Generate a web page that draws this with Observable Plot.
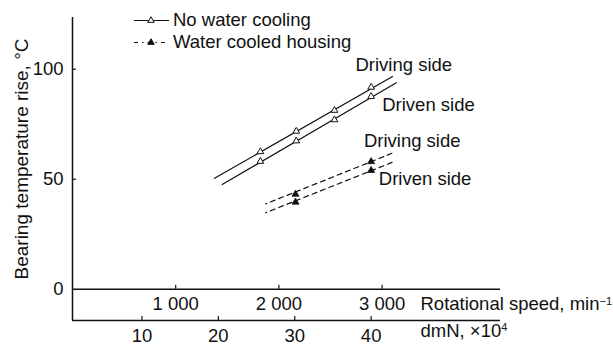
<!DOCTYPE html>
<html><head><meta charset="utf-8">
<script src="https://cdn.jsdelivr.net/npm/d3@7"></script>
<script src="https://cdn.jsdelivr.net/npm/@observablehq/plot@0.6"></script>
<style>
body{margin:0;background:#fff;font-family:"Liberation Sans",Arial,sans-serif;}
#wrap{position:relative;width:613px;height:346px;overflow:hidden;}
#legend{position:absolute;left:133px;top:9px;font-size:18.5px;color:#111;}
.row{display:flex;align-items:center;height:22px;white-space:nowrap;}
.row svg{margin-right:3px;flex:none;}
</style></head><body>
<div id="wrap"><div id="chart"></div><div id="legend"></div></div>
<script>
// ---- tick labels ----
const tempTicks = [0, 50, 100];
const dmNTicks = [10, 20, 30, 40];
const rpmTicks = [1000, 2000, 3000];
const rpmTickLabels = ["1 000", "2 000", "3 000"];
const rpmPerDmN = 74.03; // rotational speed per dmN unit (×10^4)

// ---- series: No water cooling (markers) ----
const dryDmN = [25.5, 30.2, 35.2, 40.0];
const dryDriving = [62.5, 71.8, 81.3, 91.8];
const dryDriven = [58.1, 67.4, 77.0, 87.6];
// fitted lines (end points)
const dryDrivingFitDmN = [19.5, 42.8];
const dryDrivingFitTemp = [50.4, 96.7];
const dryDrivenFitDmN = [20.5, 43.3];
const dryDrivenFitTemp = [47.6, 93.8];

// ---- series: Water cooled housing (markers) ----
const wetDmN = [30.1, 40.0];
const wetDriving = [43.2, 58.0];
const wetDriven = [39.6, 54.0];
const wetDrivingFitDmN = [26.2, 43.1];
const wetDrivingFitTemp = [38.8, 62.3];
const wetDrivenFitDmN = [26.2, 43.0];
const wetDrivenFitTemp = [34.8, 58.0];

// ---- annotations ----
const labelText = ["Driving side", "Driven side", "Driving side", "Driven side"];
const labelDmN = [37.95, 41.45, 39.05, 41.0];
const labelTemp = [102.1, 83.5, 67.3, 50.2];

const yTitle = "Bearing temperature rise, °C";
const rpmTitle = "Rotational speed, min^−1";
const dmNTitle = "dmN, ×10^4";

// ---- layout ----
const W = 613, H = 346, mL = 72, mR = 113, mT = 17, mB = 26;
const xDomain = [0.91, 56.93];
const yDomain = [-14.2, 123.5];
const yPerPx = (yDomain[1] - yDomain[0]) / (H - mT - mB);
const ink = "#111";
const fs = 18.5;

const pts = (xs, ys) => xs.map((x, i) => ({x, y: ys[i]}));
const rpmRows = rpmTicks.map((r, i) => ({x: xDomain[0] + r / rpmPerDmN, label: rpmTickLabels[i]}));
const labels = labelText.map((t, i) => ({x: labelDmN[i], y: labelTemp[i], t}));

const plot = Plot.plot({
  width: W, height: H,
  marginLeft: mL, marginRight: mR, marginTop: mT, marginBottom: mB,
  x: {domain: xDomain},
  y: {domain: yDomain},
  style: {fontFamily: "'Liberation Sans', Arial, sans-serif", fontSize: fs + "px", color: ink, background: "white"},
  marks: [
    // axis lines
    Plot.ruleX([xDomain[0]], {stroke: ink, strokeWidth: 1.5}),
    Plot.ruleY([yDomain[0]], {stroke: ink, strokeWidth: 1.5}),
    Plot.ruleY([0], {stroke: ink, strokeWidth: 1.5}),
    // y axis
    Plot.axisY({ticks: tempTicks.filter(d => d > 0), tickSize: 4, dx: 4, fill: "none", label: null, stroke: ink, strokeWidth: 1.2}),
    Plot.axisY({ticks: tempTicks, tickSize: 0, tickPadding: 9, stroke: "none", label: null, fontSize: fs, fill: ink}),
    // dmN axis (bottom)
    Plot.axisX({ticks: dmNTicks, anchor: "bottom", tickSize: 4, dy: -4, fill: "none", label: null, stroke: ink, strokeWidth: 1.2}),
    Plot.axisX({ticks: dmNTicks, anchor: "bottom", tickSize: 0, tickPadding: 8, stroke: "none", label: null, fontSize: fs, fill: ink}),
    // rotational speed axis (along y = 0)
    Plot.ruleX(rpmRows, {x: "x", y1: 0, y2: 4 * yPerPx, stroke: ink, strokeWidth: 1.2}),
    Plot.text(rpmRows, {x: "x", y: 0, text: "label", dy: 15, fontSize: fs, fill: ink}),
    // axis titles
    Plot.text([rpmTitle], {y: 0, frameAnchor: "right", dx: -80, dy: 15, textAnchor: "start", fontSize: fs, fill: ink}),
    Plot.text([dmNTitle], {frameAnchor: "bottom-right", dx: -80, dy: 16, textAnchor: "start", fontSize: fs, fill: ink}),
    Plot.text([yTitle], {frameAnchor: "left", rotate: -90, textAnchor: "middle", dx: -51, dy: -10, fontSize: 19, fill: ink}),
    // fitted lines
    Plot.line(pts(dryDrivingFitDmN, dryDrivingFitTemp), {x: "x", y: "y", stroke: ink, strokeWidth: 1.2}),
    Plot.line(pts(dryDrivenFitDmN, dryDrivenFitTemp), {x: "x", y: "y", stroke: ink, strokeWidth: 1.2}),
    Plot.line(pts(wetDrivingFitDmN, wetDrivingFitTemp), {x: "x", y: "y", stroke: ink, strokeWidth: 1.2, strokeDasharray: "5,4", strokeDashoffset: 4}),
    Plot.line(pts(wetDrivenFitDmN, wetDrivenFitTemp), {x: "x", y: "y", stroke: ink, strokeWidth: 1.2, strokeDasharray: "5,4", strokeDashoffset: 4}),
    // markers
    Plot.dot(pts(dryDmN, dryDriving), {x: "x", y: "y", symbol: "triangle", r: 2.5, fill: "white", stroke: ink, strokeWidth: 1}),
    Plot.dot(pts(dryDmN, dryDriven), {x: "x", y: "y", symbol: "triangle", r: 2.5, fill: "white", stroke: ink, strokeWidth: 1}),
    Plot.dot(pts(wetDmN, wetDriving), {x: "x", y: "y", symbol: "triangle", r: 2.6, fill: ink, stroke: ink, strokeWidth: 0.8}),
    Plot.dot(pts(wetDmN, wetDriven), {x: "x", y: "y", symbol: "triangle", r: 2.6, fill: ink, stroke: ink, strokeWidth: 0.8}),
    // annotations
    Plot.text(labels, {x: "x", y: "y", text: "t", textAnchor: "start", fontSize: fs, fill: ink})
  ]
});

// superscripts
const NS = "http://www.w3.org/2000/svg";
plot.querySelectorAll("text").forEach(t => {
  const s = t.textContent;
  if (s.includes("^")) {
    const [a, b] = s.split("^");
    t.textContent = a;
    const sup = document.createElementNS(NS, "tspan");
    sup.setAttribute("dy", "-0.5em");
    sup.setAttribute("font-size", "11px");
    sup.textContent = b;
    t.appendChild(sup);
  }
});
document.getElementById("chart").append(plot);

// legend
const legendItems = [
  {label: "No water cooling", dash: null, fill: "white"},
  {label: "Water cooled housing", dash: "4,4,1.5,4", fill: ink}
];
const legend = document.getElementById("legend");
legendItems.forEach(it => {
  const row = document.createElement("div");
  row.className = "row";
  const svg = document.createElementNS(NS, "svg");
  svg.setAttribute("width", "37"); svg.setAttribute("height", "14");
  const ln = document.createElementNS(NS, "line");
  ln.setAttribute("x1", "1"); ln.setAttribute("x2", "36");
  ln.setAttribute("y1", "7.5"); ln.setAttribute("y2", "7.5");
  ln.setAttribute("stroke", ink); ln.setAttribute("stroke-width", "1.2");
  if (it.dash) ln.setAttribute("stroke-dasharray", it.dash);
  svg.appendChild(ln);
  const tri = document.createElementNS(NS, "path");
  tri.setAttribute("d", d3.symbol(d3.symbolTriangle, 18)());
  tri.setAttribute("transform", "translate(18,7.5)");
  tri.setAttribute("fill", it.fill); tri.setAttribute("stroke", ink); tri.setAttribute("stroke-width", "1");
  svg.appendChild(tri);
  row.appendChild(svg);
  const sp = document.createElement("span");
  sp.textContent = it.label;
  row.appendChild(sp);
  legend.appendChild(row);
});
</script></body></html>
